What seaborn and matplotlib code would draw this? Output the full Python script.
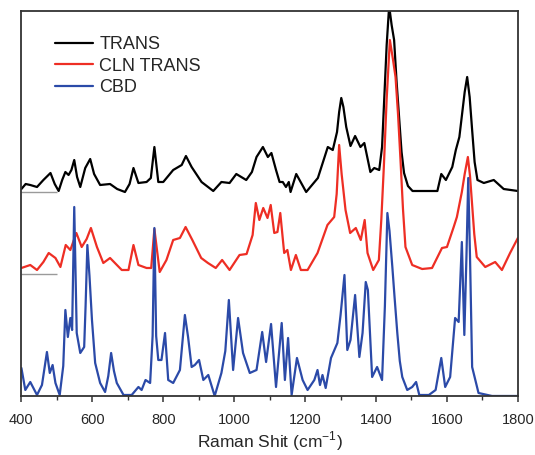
import matplotlib
matplotlib.use("Agg")
import matplotlib.pyplot as plt
import pandas as pd
import seaborn as sns
from matplotlib.ticker import MultipleLocator

# Raman spectra, intensity relative to each trace's own baseline (arb. units)
trans_x = [400, 412, 425, 444, 462, 482, 494, 505, 515, 524, 533, 541, 549, 557, 566, 580, 594, 605,
           622, 650, 670, 692, 705, 716, 730, 753, 765, 775, 786, 800, 828, 852, 864, 880, 908,
           941, 964, 987, 1006, 1034, 1050, 1063, 1081, 1095, 1105, 1118, 1128, 1137, 1146, 1154,
           1159, 1175, 1203, 1236, 1255, 1264, 1278, 1290, 1296, 1302, 1308, 1316, 1328, 1341,
           1356, 1367, 1384, 1395, 1409, 1417, 1423, 1430, 1437, 1444, 1451, 1458, 1465, 1472,
           1479, 1490, 1503, 1573, 1584, 1597, 1615, 1625, 1635, 1643, 1650, 1657, 1664, 1671,
           1678, 1686, 1704, 1732, 1760, 1800]
trans_y = [3, 8, 7, 5, 12, 19, 8, 1, 12, 20, 17, 22, 32, 15, 5, 24, 33, 18,
           7, 8, 3, 0, 8, 24, 9, 10, 14, 45, 10, 10, 22, 27, 36, 25, 10,
           1, 10, 9, 18, 12, 20, 35, 45, 35, 39, 22, 10, 10, 5, 10,
           0, 18, 0, 14, 35, 45, 42, 60, 80, 94, 85, 65, 46, 56,
           45, 49, 20, 24, 22, 45, 92, 147, 186, 167, 152, 110, 75, 40,
           19, 6, 1, 1, 18, 12, 25, 42, 55, 79, 100, 115, 95, 62,
           30, 12, 9, 12, 3, 1]

cln_x = [400, 425, 444, 462, 477, 496, 510, 525, 538, 555, 570, 584, 596, 613, 631, 650, 683,
         702, 716, 730, 753, 766, 775, 790, 809, 828, 847, 863, 882, 907, 926, 948, 966, 987,
         1015, 1035, 1052, 1061, 1071, 1082, 1094, 1103, 1113, 1122, 1130, 1141, 1150, 1160,
         1174, 1188, 1207, 1235, 1263, 1282, 1289, 1296, 1303, 1314, 1327, 1343, 1357, 1368,
         1376, 1392, 1408, 1415, 1422, 1430, 1439, 1448, 1455, 1462, 1469, 1476, 1483, 1502,
         1530, 1558, 1586, 1600, 1619, 1628, 1642, 1650, 1659, 1665, 1670, 1677, 1684, 1708,
         1736, 1755, 1778, 1800]
cln_y = [6, 9, 4, 12, 21, 16, 7, 29, 24, 41, 27, 35, 46, 27, 11, 16, 4,
         4, 29, 9, 6, 6, 45, 2, 14, 34, 36, 47, 34, 16, 11, 6, 14, 4,
         19, 20, 39, 71, 54, 66, 56, 69, 41, 42, 61, 21, 24, 4,
         19, 4, 4, 21, 49, 57, 80, 129, 100, 64, 41, 46, 34, 54,
         21, 4, 14, 55, 107, 175, 234, 214, 197, 160, 114, 65, 27, 9,
         5, 6, 26, 27, 47, 57, 82, 100, 117, 98, 74, 40, 17, 7,
         12, 4, 21, 36]

cbd_x = [400, 411, 425, 444, 458, 472, 480, 488, 496, 508, 518, 524, 531, 538, 543, 549, 556,
         566, 577, 581, 586, 592, 599, 608, 622, 636, 645, 653, 661, 669, 688, 711, 730, 739, 750,
         763, 770, 775, 780, 786, 795, 805, 814, 828, 847, 861, 870, 880, 889, 901, 913, 927,
         945, 964, 975, 985, 997, 1011, 1025, 1044, 1063, 1079, 1090, 1104, 1118, 1134, 1143,
         1152, 1162, 1177, 1193, 1207, 1226, 1235, 1242, 1249, 1258, 1273, 1291, 1300, 1311,
         1319, 1328, 1341, 1353, 1362, 1371, 1377, 1389, 1403, 1417, 1425, 1432, 1438, 1446,
         1452, 1460, 1467, 1474, 1488, 1502, 1513, 1522, 1549, 1568, 1584, 1595, 1609, 1623,
         1633, 1642, 1649, 1655, 1660, 1665, 1671, 1689, 1727, 1800]
cbd_y = [28, 6, 14, 1, 11, 44, 23, 31, 13, 1, 30, 86, 59, 78, 66, 189, 63,
         43, 49, 90, 151, 120, 76, 33, 13, 4, 20, 43, 25, 13, 1, 1, 9, 6, 16,
         13, 60, 168, 60, 36, 36, 63, 16, 13, 26, 81, 59, 29, 31, 36, 16, 21,
         0, 23, 45, 96, 26, 78, 43, 23, 26, 64, 34, 72, 9, 73, 16,
         58, 1, 38, 16, 6, 16, 26, 11, 21, 8, 38, 53, 81, 121,
         46, 56, 101, 39, 63, 114, 106, 19, 29, 16, 90, 183, 165, 129,
         100, 63, 35, 19, 6, 9, 14, 1, 1, 6, 38, 9, 19, 78,
         74, 154, 61, 140, 218, 140, 29, 3, 0, 0]

names = ["TRANS", "CLN TRANS", "CBD"]
offsets = [204, 122, 0]
colors = ["#000000", "#ee2e24", "#2b4aa8"]

frames = []
for name, xs, ys, off in zip(names, [trans_x, cln_x, cbd_x], [trans_y, cln_y, cbd_y], offsets):
    frames.append(pd.DataFrame({"shift": xs, "intensity": [v + off for v in ys], "sample": name}))
df = pd.concat(frames, ignore_index=True)

sns.set_style("ticks")
plt.rcParams["font.family"] = ["Liberation Sans", "DejaVu Sans"]
plt.rcParams["mathtext.fontset"] = "custom"
plt.rcParams["mathtext.rm"] = "Liberation Sans"

fig = plt.figure(figsize=(5.35, 4.55), dpi=100)
ax = fig.add_axes([0.040, 0.1297, 0.928, 0.8461])

sns.lineplot(data=df, x="shift", y="intensity", hue="sample", hue_order=names,
             palette=dict(zip(names, colors)), estimator=None, sort=True, lw=1.6, ax=ax)

# baseline markers for the offset traces
for off in offsets[:2]:
    ax.hlines(off, 400, 500, color="#9a9a9a", lw=1.0)

ax.set_xlim(400, 1800)
ax.set_ylim(0, 385)
ax.set_yticks([])
ax.set_ylabel("")
ax.xaxis.set_major_locator(MultipleLocator(200))
ax.xaxis.set_minor_locator(MultipleLocator(100))
ax.tick_params(axis="x", which="major", direction="out", length=4, width=1.1,
               labelsize=10.5, pad=8, color="#333333")
ax.tick_params(axis="x", which="minor", direction="out", length=3, width=1.0, color="#333333")
ax.set_xlabel("Raman Shit (cm$^{-1}$)", fontsize=12.5, labelpad=2)
for s in ax.spines.values():
    s.set_visible(True)
    s.set_color("#333333")
    s.set_linewidth(1.3)

leg = ax.legend(loc="upper left", bbox_to_anchor=(0.0675, 0.935), frameon=False,
                fontsize=13, handlelength=2.1, handletextpad=0.35, borderpad=0,
                borderaxespad=0, labelspacing=0.25)
for h in leg.get_lines():
    h.set_linewidth(1.6)

fig.savefig("out.png", dpi=100)
